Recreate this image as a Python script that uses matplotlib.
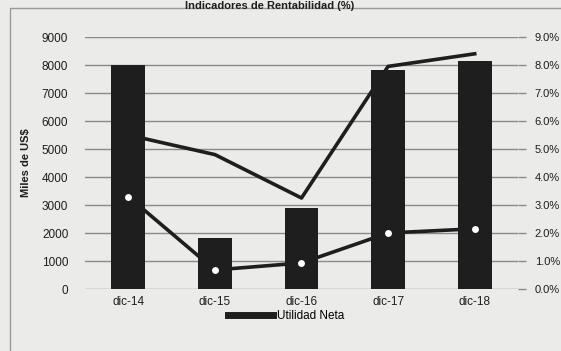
import matplotlib.pyplot as plt
from matplotlib.lines import Line2D
from matplotlib.patches import Rectangle

plt.rcParams['font.family'] = ['Liberation Sans', 'DejaVu Sans']

# Datos
periodos = ["dic-14", "dic-15", "dic-16", "dic-17", "dic-18"]
utilidad_neta = [8000, 1820, 2900, 7820, 8150]          # Miles de US$
rentabilidad_a = [5.5, 4.8, 3.25, 7.95, 8.4]            # %
rentabilidad_b = [3.3, 0.68, 0.93, 2.0, 2.15]           # %

oscuro = "#1e1e1e"
fondo = "#ebebe9"

fig = plt.figure(figsize=(5.61, 3.51), dpi=100)
fig.patch.set_facecolor(fondo)

# borde del cuadro
fig.patches.append(Rectangle((10 / 561, -0.01), 1.2, 1 - 8 / 351 + 0.01,
                             transform=fig.transFigure, fill=False,
                             edgecolor="#9a9a9a", linewidth=1.0))

fig.text(0.48, 0.998, "Indicadores de Rentabilidad (%)", ha="center", va="top",
         fontsize=8, fontweight="bold", color=oscuro)

ax = fig.add_axes([85 / 561, 62 / 351, 433 / 561, 252 / 351])
ax.set_facecolor(fondo)
x = range(len(periodos))
ax.bar(x, utilidad_neta, width=0.39, color=oscuro, zorder=2)
ax.set_xlim(-0.5, 4.5)
ax.set_ylim(0, 9000)
ax.set_yticks(range(0, 9001, 1000))
ax.set_xticks(list(x))
ax.set_xticklabels(periodos)
ax.set_ylabel("Miles de US$", fontsize=8, fontweight="bold", color=oscuro, labelpad=8)
ax.grid(axis="y", color="#8a8a8a", linewidth=1.0, zorder=0)
ax.tick_params(axis="y", length=0, labelsize=8.5, pad=12, colors=oscuro)
ax.tick_params(axis="x", length=0, labelsize=8.5, pad=5, colors=oscuro)
for s in ax.spines.values():
    s.set_visible(False)

ax2 = ax.twinx()
ax2.plot(x, rentabilidad_a, color=oscuro, linewidth=2.6, zorder=3)
ax2.plot(x, rentabilidad_b, color=oscuro, linewidth=2.6, marker="o",
         markersize=7, markerfacecolor="white", markeredgecolor=oscuro,
         markeredgewidth=2.0, zorder=3)
ax2.set_ylim(0, 9)
ax2.set_yticks(range(0, 10))
ax2.set_yticklabels([f"{v:.1f}%" for v in range(0, 10)])
ax2.tick_params(axis="y", length=6, width=1.0, color="#8a8a8a", labelsize=8,
                pad=6, colors=oscuro)
for s in ax2.spines.values():
    s.set_visible(False)

leyenda = [Line2D([0], [0], color=oscuro, linewidth=5)]
fig.legend(leyenda, ["Utilidad Neta"], loc="center", bbox_to_anchor=(0.51, 0.1),
           frameon=False, fontsize=8.5, handlelength=3.8, handletextpad=0.3)

fig.savefig("out.png", dpi=100, facecolor=fondo)
